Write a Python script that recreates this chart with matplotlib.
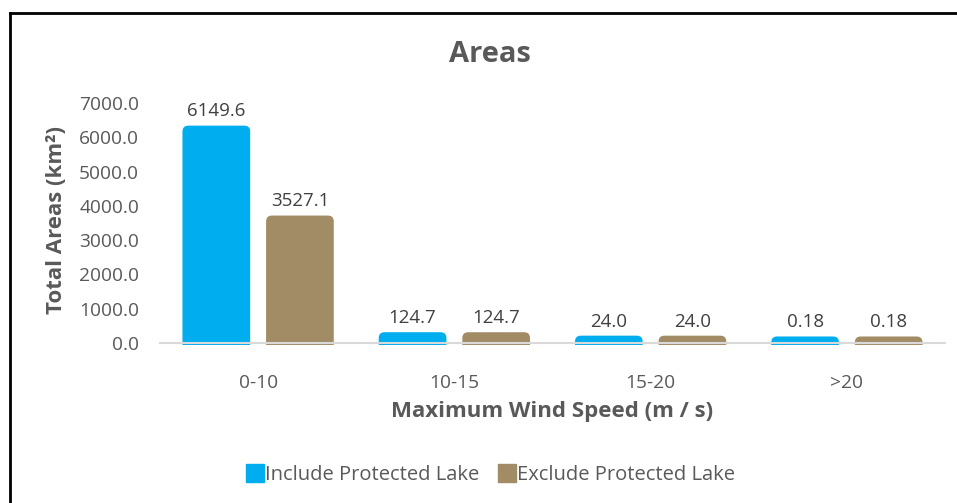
import matplotlib.pyplot as plt
import numpy as np
from matplotlib.patches import FancyBboxPatch, Rectangle
from matplotlib.lines import Line2D

plt.rcParams['font.family'] = ['Open Sans', 'DejaVu Sans']

categories = ['0-10', '10-15', '15-20', '>20']
include_vals = [6149.6, 124.7, 24.0, 0.18]
exclude_vals = [3527.1, 124.7, 24.0, 0.18]
include_lbls = ['6149.6', '124.7', '24.0', '0.18']
exclude_lbls = ['3527.1', '124.7', '24.0', '0.18']
yticks = [0, 1000, 2000, 3000, 4000, 5000, 6000, 7000]

BLUE = '#00AEEF'
TAN = '#A28C66'
GREY_TXT = '#595959'

W, H = 957, 503
fig = plt.figure(figsize=(W / 100, H / 100), dpi=100)
# axes: x 160..945 px, y 103..343 px
ax = fig.add_axes([160 / W, 1 - 343 / H, 785 / W, 240 / H])

x = np.arange(len(categories))
bw = 0.345
off = 0.213

ax.set_xlim(-0.5, len(categories) - 0.5)
ax.set_ylim(0, 7000)

# bar shape: rounded top, small cap so tiny values stay visible
cap = 190
below = 60
asp = (7000 / 240) / (4 / 785)
for vals, lbls, sign, col in [(include_vals, include_lbls, -1, BLUE),
                              (exclude_vals, exclude_lbls, 1, TAN)]:
    for xi, v, lb in zip(x, vals, lbls):
        left = xi + sign * off - bw / 2
        top = v + cap
        p = FancyBboxPatch((left, -600), bw, top + 600,
                           boxstyle='round,pad=0,rounding_size=0.03',
                           mutation_aspect=asp, facecolor=col,
                           edgecolor='none', clip_on=True, zorder=2)
        ax.add_patch(p)
        clip = Rectangle((left - 0.1, -below), bw + 0.2, 9000,
                         transform=ax.transData)
        p.set_clip_path(clip)
        ax.text(left + bw / 2, top + 150, lb, ha='center', va='bottom',
                fontsize=13.5, color='#404040')

for s in ['top', 'right', 'left']:
    ax.spines[s].set_visible(False)
ax.spines['bottom'].set_color('#D9D9D9')
ax.spines['bottom'].set_linewidth(1.5)
ax.spines['bottom'].set_zorder(3)

ax.set_yticks(yticks)
ax.set_yticklabels([f'{t:.1f}' for t in yticks], fontsize=13.8, color=GREY_TXT)
ax.set_xticks(x)
ax.set_xticklabels(categories, fontsize=13.8, color=GREY_TXT)
ax.tick_params(axis='both', length=0)
ax.tick_params(axis='y', pad=15)
ax.tick_params(axis='x', pad=22)

fig.text(490 / W, 1 - 55 / H, 'Areas', ha='center', va='center',
         fontsize=21, fontweight='bold', color=GREY_TXT)
fig.text(552 / W, 1 - 411 / H, 'Maximum Wind Speed (m / s)', ha='center',
         va='center', fontsize=16, fontweight='bold', color=GREY_TXT)
fig.text(57 / W, 1 - 220 / H, 'Total Areas (km²)', ha='center',
         va='center', rotation=90, fontsize=16, fontweight='bold',
         color=GREY_TXT)

# legend
handles = [Line2D([], [], marker='s', linestyle='none', markersize=12.5,
                  markerfacecolor=BLUE, markeredgecolor=BLUE),
           Line2D([], [], marker='s', linestyle='none', markersize=12.5,
                  markerfacecolor=TAN, markeredgecolor=TAN)]
fig.legend(handles, ['Include Protected Lake', 'Exclude Protected Lake'],
           loc='center', bbox_to_anchor=(490 / W, 1 - 475 / H), ncol=2,
           frameon=False, fontsize=14.5, handletextpad=0.0,
           columnspacing=0.9, labelcolor=GREY_TXT, handlelength=1.0)

# outer frame (left + top)
fig.add_artist(Line2D([10 / W, 10 / W], [0, 1 - 13 / H], color='black',
                      linewidth=2, transform=fig.transFigure))
fig.add_artist(Line2D([10 / W, 1], [1 - 13 / H, 1 - 13 / H], color='black',
                      linewidth=2, transform=fig.transFigure))

fig.savefig('out.png', dpi=100)
